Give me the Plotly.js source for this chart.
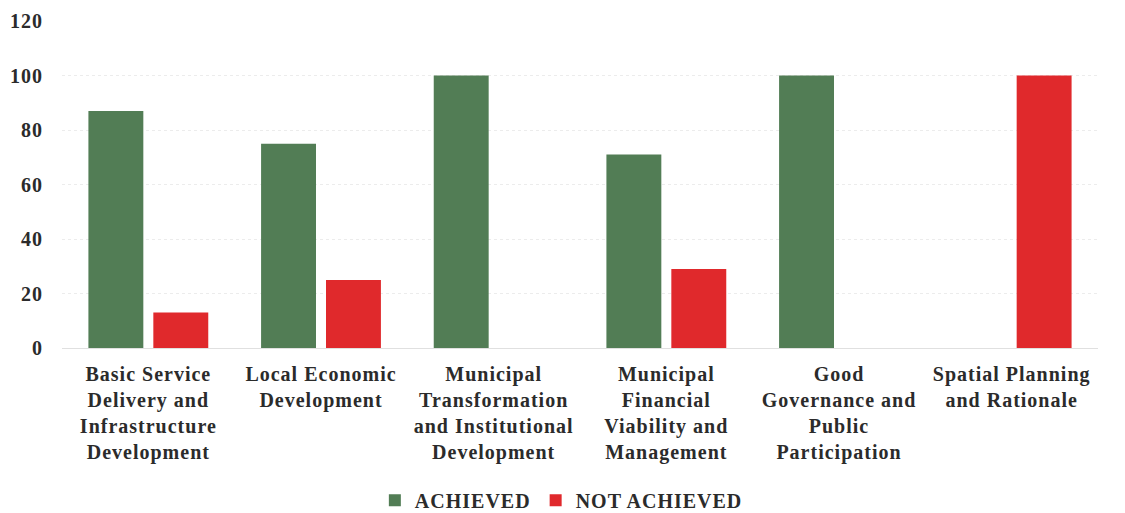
<!DOCTYPE html>
<html><head><meta charset="utf-8">
<script src="https://cdn.plot.ly/plotly-3.0.1.min.js"></script>
<style>body{margin:0;background:#fff}#c{width:1125px;height:513px}
svg text{letter-spacing:1px}</style>
</head><body><div id="c"></div>
<script>
const categories = [
  "Basic Service<br>Delivery and<br>Infrastructure<br>Development",
  "Local Economic<br>Development",
  "Municipal<br>Transformation<br>and Institutional<br>Development",
  "Municipal<br>Financial<br>Viability and<br>Management",
  "Good<br>Governance and<br>Public<br>Participation",
  "Spatial Planning<br>and Rationale"
];
const achieved = [87, 75, 100, 71, 100, 0];
const notAchieved = [13, 25, 0, 29, 0, 100];
const yTicks = [0, 20, 40, 60, 80, 100, 120];

const fam = "Liberation Serif, Times New Roman, serif";
const tf = {family: fam, size: 20, color: "#2b2b2b", weight: "bold"};
Plotly.newPlot("c", [
  {type: "bar", name: "ACHIEVED", x: categories, y: achieved, marker: {color: "#527d55", line: {width: 0}}},
  {type: "bar", name: "NOT ACHIEVED", x: categories, y: notAchieved, marker: {color: "#e0292c", line: {width: 0}}}
], {
  width: 1125, height: 513,
  margin: {l: 62, r: 27, t: 21, b: 165},
  paper_bgcolor: "#fff", plot_bgcolor: "#fff",
  barmode: "group", bargap: 0.248, bargroupgap: 0.154,
  font: {family: fam, size: 20, color: "#2b2b2b"},
  xaxis: {tickfont: tf, showline: false, ticks: "", tickangle: 0, ticklabelstandoff: 12, automargin: false},
  yaxis: {range: [0, 120], tickvals: yTicks, tickfont: tf, automargin: false,
          showgrid: true, gridcolor: "#ececec", griddash: "dot", zeroline: true, zerolinecolor: "#e0e0e0", ticklabelstandoff: 18},
  showlegend: true,
  legend: {orientation: "h", x: 0.482, xanchor: "center", yref: "container", y: 0.025, yanchor: "middle",
           font: tf, itemwidth: 30, traceorder: "normal"}
}, {displayModeBar: false, staticPlot: true});
</script></body></html>
